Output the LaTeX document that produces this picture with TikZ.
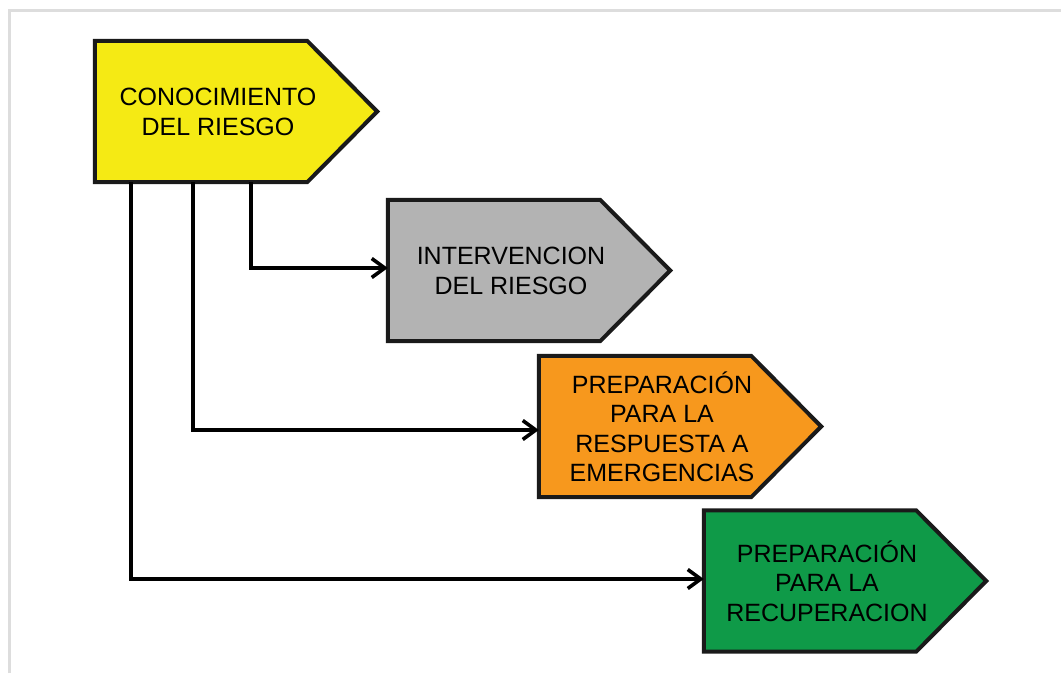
\documentclass[tikz,border=0pt]{standalone}
\usepackage{fontspec}
\setmainfont{Liberation Sans}
\usetikzlibrary{arrows.meta,calc}
\definecolor{cyel}{HTML}{F5EA14}
\definecolor{cgray}{HTML}{B3B3B3}
\definecolor{corange}{HTML}{F7981D}
\definecolor{cgreen}{HTML}{0F9A48}
\definecolor{cframe}{HTML}{DDDDDD}
\definecolor{cline}{HTML}{1A1A1A}
\tikzset{
  body/.style={minimum width=212pt, minimum height=141pt, inner sep=0pt, draw=none},
  pent/.style={draw=cline, line width=4pt, line join=miter},
  lbl/.style={align=center, font=\fontsize{25}{29.5}\selectfont, inner sep=0pt},
  conn/.style={draw=black, line width=3.6pt, line join=miter, -{Straight Barb[length=13pt,width=19pt,line width=3.6pt]}},
}
\newcommand{\pentagon}[2]{%
  \path[pent, fill=#2] (#1.north west) -- (#1.north east) -- ($(#1.east)+(70,0)$) -- (#1.south east) -- (#1.south west) -- cycle;}
\begin{document}
\begin{tikzpicture}[x=1pt,y=-1pt]
\useasboundingbox (0,0) rectangle (1061,674);
\draw[cframe, line width=3pt] (9.5,673) -- (9.5,10.5) -- (1061,10.5);

\node[body] (a) at (201,111.5) {};
\node[body] (b) at (494,270.5) {};
\node[body] (c) at (645,426.5) {};
\node[body] (d) at (810,581) {};

\pentagon{a}{cyel}
\pentagon{b}{cgray}
\pentagon{c}{corange}
\pentagon{d}{cgreen}

\node[lbl] (ta) at (218,112) {CONOCIMIENTO\\DEL RIESGO};
\node[lbl] (tb) at (511,271) {INTERVENCION\\DEL RIESGO};
\node[lbl] (tc) at (662,427) {PREPARACIÓN\\PARA LA\\RESPUESTA A\\EMERGENCIAS};
\node[lbl] (td) at (827,581) {PREPARACIÓN\\PARA LA\\RECUPERACION};

\coordinate (s1) at ($(a.south west)+(156,0)$);
\coordinate (s2) at ($(a.south west)+(98,0)$);
\coordinate (s3) at ($(a.south west)+(36,0)$);
\coordinate (e1) at ($(b.west)+(0,-2.5)$);
\coordinate (e2) at ($(c.west)+(0,3.5)$);
\coordinate (e3) at ($(d.west)+(0,-2)$);
\draw[conn] (s1) |- (e1);
\draw[conn] (s2) |- (e2);
\draw[conn] (s3) |- (e3);
\end{tikzpicture}
\end{document}
